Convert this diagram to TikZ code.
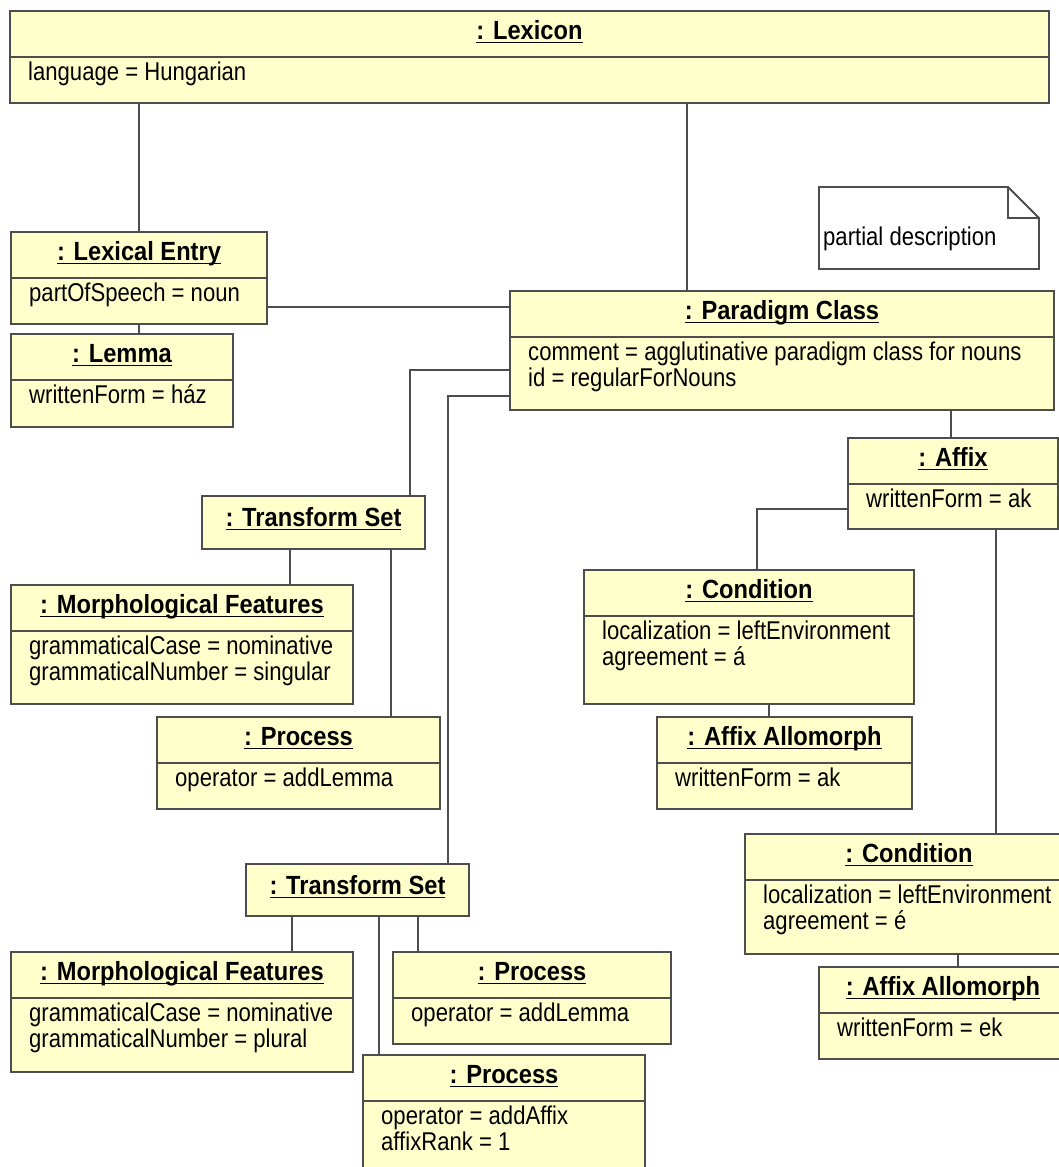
\documentclass[tikz,border=0pt]{standalone}
\usepackage{fontspec}
\setmainfont{Liberation Sans}
\newfontfamily\attrfont{Liberation Sans}[FakeStretch=0.86]
\newfontfamily\namefont{Liberation Sans}[FakeStretch=0.9]
\usetikzlibrary{calc}

\definecolor{objfill}{HTML}{FFFFCC}
\definecolor{edge}{HTML}{4D4D4D}

% underlined object name with a fixed rule just under the baseline
\newcommand\ultitle[1]{\setbox0\hbox{#1}\rlap{\rule[-4.2pt]{\wd0}{1.7pt}}\box0}

\tikzset{
  objbox/.style={draw=edge, line width=1.8pt, fill=objfill, inner sep=0pt, outer sep=0pt, anchor=north west},
  divline/.style={draw=edge, line width=1.8pt},
  conn/.style={draw=edge, line width=1.8pt},
  notebox/.style={draw=edge, line width=1.8pt, fill=white, line join=miter},
  titletext/.style={font=\namefont\fontsize{26.3}{28}\selectfont\bfseries, inner sep=0pt, anchor=base},
  attrtext/.style={font=\attrfont\fontsize{25.7}{27}\selectfont, inner sep=0pt, anchor=base west},
}

% object with name compartment and attribute compartment
% #1 name, #2 x1, #3 y1, #4 x2, #5 y2, #6 title, #7 attribute lines
\newcommand\umlobject[7]{%
  \pgfmathsetmacro\objw{#4-#2}%
  \pgfmathsetmacro\objh{#5-#3}%
  \node[objbox, minimum width=\objw pt, minimum height=\objh pt] (#1) at (#2,#3) {};
  \draw[divline] ([yshift=-46pt]#1.north west) -- ([yshift=-46pt]#1.north east);
  \node[titletext] (#1-t) at ([yshift=-28pt]#1.north) {\ultitle{#6}};
  \foreach \a [count=\i] in {#7} {
    \node[attrtext] (#1-a\i) at ([xshift=18pt, yshift={-(69+(\i-1)*26.5)*1pt}]#1.north west) {\a};
  }
}
% object with a name compartment only
\newcommand\umlplain[6]{%
  \pgfmathsetmacro\objw{#4-#2}%
  \pgfmathsetmacro\objh{#5-#3}%
  \node[objbox, minimum width=\objw pt, minimum height=\objh pt] (#1) at (#2,#3) {};
  \node[titletext] (#1-t) at ([yshift=-30pt]#1.north) {\ultitle{#6}};
}

\begin{document}
\begin{tikzpicture}[x=1pt, y=-1pt]
\clip (0,0) rectangle (1059,1167);
\fill[white] (0,0) rectangle (1059,1167);

\umlobject{lexicon}{10}{11}{1049}{103}{: Lexicon}{language = Hungarian}
\umlobject{lexentry}{11}{232}{267}{324}{: Lexical Entry}{partOfSpeech = noun}
\umlobject{lemma}{11}{334}{233}{427}{: Lemma}{writtenForm = ház}
\umlobject{para}{510}{291}{1054}{410}{: Paradigm Class}{comment = agglutinative paradigm class for nouns, id = regularForNouns}

\umlplain{ts1}{202}{496}{425}{549}{: Transform Set}
\umlobject{mf1}{11}{585}{353}{704}{: Morphological Features}{grammaticalCase = nominative, grammaticalNumber = singular}
\umlobject{proc1}{157}{717}{440}{809}{: Process}{operator = addLemma}

\umlobject{affix}{848}{438}{1058}{529}{: Affix}{writtenForm = ak}
\umlobject{cond1}{584}{570}{914}{704}{: Condition}{localization = leftEnvironment, agreement = á}
\umlobject{aa1}{657}{717}{912}{809}{: Affix Allomorph}{writtenForm = ak}
\umlobject{cond2}{745}{834}{1073}{954}{: Condition}{localization = leftEnvironment, agreement = é}
\umlobject{aa2}{819}{967}{1067}{1059}{: Affix Allomorph}{writtenForm = ek}

\umlplain{ts2}{246}{864}{469}{916}{: Transform Set}
\umlobject{mf2}{11}{952}{353}{1072}{: Morphological Features}{grammaticalCase = nominative, grammaticalNumber = plural}
\umlobject{proc2}{393}{952}{671}{1044}{: Process}{operator = addLemma}
\umlobject{proc3}{363}{1055}{645}{1185}{: Process}{operator = addAffix, affixRank = 1}

% note with folded corner
\node[inner sep=0pt, outer sep=0pt, minimum width=220pt, minimum height=82pt, anchor=north west] (note) at (819,187) {};
\draw[notebox] (note.north west) -- ([xshift=-31pt]note.north east) -- ([yshift=-31pt]note.north east)
  -- (note.south east) -- (note.south west) -- cycle;
\draw[notebox, fill=none] ([xshift=-31pt]note.north east) -- ([xshift=-31pt, yshift=-31pt]note.north east)
  -- ([yshift=-31pt]note.north east);
\node[attrtext] (note-text) at ([xshift=4pt, yshift=-58pt]note.north west) {partial description};

% links
\draw[conn] (lexentry.north) -- (lexentry.north |- lexicon.south);
\draw[conn] (para.north -| 687,0) -- (lexicon.south -| 687,0);
\draw[conn] (lexentry.south) -- (lexentry.south |- lemma.north);
\draw[conn] (lexentry.east |- 0,307) -- (para.west |- 0,307);
\draw[conn] (para.west |- 0,370) -| (ts1.north -| 410,0);
\draw[conn] (para.west |- 0,396) -| (ts2.north -| 448,0);
\draw[conn] (ts1.south -| 290,0) -- (mf1.north -| 290,0);
\draw[conn] (ts1.south -| 391,0) -- (proc1.north -| 391,0);
\draw[conn] (para.south -| 951,0) -- (affix.north -| 951,0);
\draw[conn] (affix.west |- 0,509) -| (cond1.north -| 757,0);
\draw[conn] (cond1.south -| 769,0) -- (aa1.north -| 769,0);
\draw[conn] (affix.south -| 996,0) -- (cond2.north -| 996,0);
\draw[conn] (cond2.south -| 958,0) -- (aa2.north -| 958,0);
\draw[conn] (ts2.south -| 292,0) -- (mf2.north -| 292,0);
\draw[conn] (ts2.south -| 379,0) -- (proc3.north -| 379,0);
\draw[conn] (ts2.south -| 418,0) -- (proc2.north -| 418,0);
\end{tikzpicture}
\end{document}
